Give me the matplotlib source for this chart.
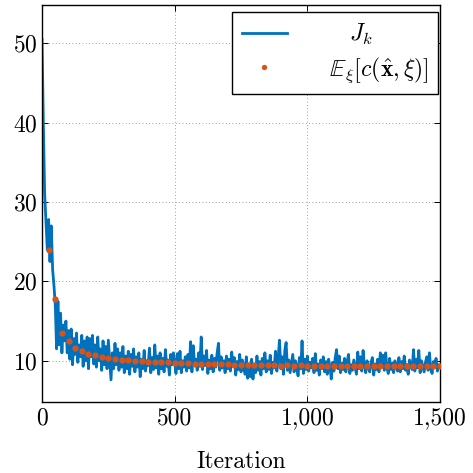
import matplotlib
matplotlib.use("Agg")
import matplotlib.pyplot as plt
from matplotlib.ticker import FuncFormatter

# cost per iteration J_k, read every 5 iterations (0 ... 1500)
iter_step = 5
J_k = [
    50.5, 40.0, 31.0, 27.5, 24.0, 27.8, 22.5, 27.0, 21.5, 19.5,
    17.0, 11.5, 17.5, 12.0, 16.0, 11.0, 14.5, 12.5, 15.0, 11.0,
    13.8, 10.2, 14.0, 9.5, 12.8, 10.8, 13.5, 9.8, 12.0, 10.5,
    13.2, 9.3, 12.5, 10.0, 13.0, 9.0, 12.8, 10.5, 13.2, 9.6,
    12.0, 9.2, 13.0, 10.0, 11.5, 8.8, 12.5, 9.5, 11.8, 9.0,
    12.6, 10.2, 7.6, 11.0, 9.0, 12.2, 9.5, 11.5, 8.8, 11.0,
    9.2, 11.8, 8.5, 10.6, 9.0, 11.2, 8.3, 10.8, 9.3, 11.5,
    8.6, 10.5, 9.2, 11.0, 8.0, 10.2, 9.0, 11.3, 8.7, 10.0,
    9.4, 11.6, 8.5, 10.4, 8.9, 12.0, 9.1, 10.6, 8.3, 11.0,
    9.0, 10.3, 8.6, 11.4, 9.3, 10.1, 8.2, 10.8, 9.5, 11.0,
    9.8, 8.4, 10.9, 9.0, 11.2, 8.5, 10.0, 9.2, 10.5, 8.7,
    10.8, 9.1, 12.4, 8.6, 11.9, 9.5, 10.2, 8.8, 11.0, 9.3,
    13.0, 8.9, 10.6, 9.4, 11.3, 8.4, 10.1, 9.0, 10.7, 8.6,
    10.3, 9.2, 11.0, 12.2, 8.8, 10.5, 9.1, 10.0, 8.5, 10.6,
    9.0, 10.2, 8.7, 11.1, 9.3, 10.4, 8.2, 9.9, 8.9, 10.8,
    8.6, 10.1, 9.2, 8.3, 10.5, 7.8, 9.6, 8.0, 10.2, 7.7,
    9.4, 8.5, 10.6, 8.8, 9.9, 8.2, 10.3, 9.0, 11.0, 8.6,
    10.0, 8.9, 10.7, 8.4, 9.8, 9.1, 11.2, 8.7, 10.4, 12.6,
    9.0, 10.5, 8.3, 11.3, 12.3, 8.8, 10.1, 8.5, 9.7, 10.8,
    8.6, 10.0, 9.2, 8.1, 10.4, 9.0, 12.5, 8.4, 10.2, 8.9,
    10.6, 8.7, 9.8, 9.1, 10.3, 8.5, 10.9, 8.8, 9.6, 8.2,
    10.1, 9.0, 10.5, 8.6, 9.9, 8.3, 10.2, 9.3, 7.7, 9.8,
    8.7, 10.4, 11.4, 9.0, 10.6, 8.5, 9.7, 8.9, 10.3, 8.6,
    9.9, 10.8, 8.4, 9.5, 8.8, 10.1, 9.2, 8.3, 11.1, 9.0,
    10.5, 8.7, 11.3, 9.4, 8.5, 10.0, 9.1, 8.6, 9.8, 10.4,
    8.2, 9.6, 8.9, 10.2, 8.6, 11.0, 9.3, 10.7, 8.8, 11.0,
    9.1, 8.4, 10.3, 8.9, 9.7, 8.5, 10.0, 9.2, 8.7, 10.4,
    8.6, 9.9, 9.0, 10.6, 8.8, 9.5, 8.3, 10.1, 9.4, 8.9,
    11.4, 8.7, 10.2, 9.1, 11.3, 8.5, 10.0, 9.3, 8.6, 9.8,
    10.5, 8.8, 11.0, 9.0, 8.4, 9.9, 9.2, 10.3, 8.7, 9.5,
    9.4,
]

# expected cost, evaluated every 25 iterations (25 ... 1500)
eval_step = 25
exp_cost = [
    23.9, 17.8, 13.5, 12.5, 11.6, 11.2, 10.8, 10.7, 10.45, 10.35,
    10.25, 10.15, 10.05, 10.0, 9.95, 9.9, 9.85, 9.8, 9.8, 9.75,
    9.7, 9.7, 9.65, 9.65, 9.6, 9.6, 9.55, 9.55, 9.5, 9.5,
    9.5, 9.45, 9.45, 9.42, 9.45, 9.4, 9.42, 9.4, 9.42, 9.38,
    9.4, 9.4, 9.38, 9.4, 9.36, 9.38, 9.4, 9.36, 9.38, 9.35,
    9.38, 9.36, 9.35, 9.37, 9.35, 9.36, 9.34, 9.35, 9.35, 9.33,
]

x_j = [i * iter_step for i in range(len(J_k))]
x_e = [(i + 1) * eval_step for i in range(len(exp_cost))]

plt.rcParams['font.family'] = 'cmr10'
plt.rcParams['mathtext.fontset'] = 'cm'
plt.rcParams['axes.formatter.use_mathtext'] = True

fig = plt.figure(figsize=(4.73, 4.73), dpi=100)
ax = fig.add_axes([0.0888, 0.150, 0.8415, 0.839])

ax.plot(x_j, J_k, color='#0072BD', lw=2.0, label=r'$\quad J_k$', zorder=2)
ax.plot(x_e, exp_cost, 'o', color='#D95319', ms=4.5, mec='none',
        label=r'$\mathbb{E}_\xi\left[c(\hat{\mathbf{x}},\xi)\right]\ \ $', zorder=3)

ax.set_xlim(0, 1500)
ax.set_ylim(4.8, 54.8)
ax.set_xticks([0, 500, 1000, 1500])
ax.set_yticks([10, 20, 30, 40, 50])
ax.xaxis.set_major_formatter(FuncFormatter(lambda v, p: f'{v:,.0f}'))
ax.grid(True, color='gray', ls=(0, (1, 3)), lw=0.6)
ax.tick_params(direction='in', top=True, right=True, length=4, width=0.7,
               labelsize=17)
for s in ax.spines.values():
    s.set_linewidth(1.0)
ax.set_xlabel('Iteration', fontsize=17, labelpad=16)

leg = ax.legend(loc='upper right', bbox_to_anchor=(0.995, 0.982),
                borderaxespad=0, fontsize=17, frameon=True, fancybox=False,
                edgecolor='black', framealpha=1, handlelength=1.9,
                handletextpad=1.8, borderpad=0.4, labelspacing=0.35,
                markerscale=0.85)
leg.get_frame().set_linewidth(1.0)

fig.savefig('out.png', dpi=100)
